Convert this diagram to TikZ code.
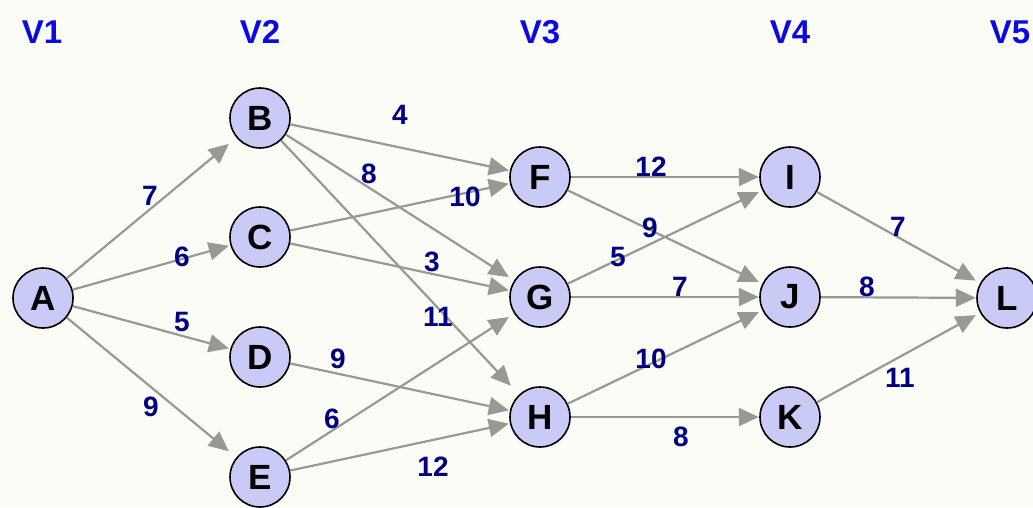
\documentclass[tikz,border=0pt]{standalone}
\usepackage{fontspec}
\setmainfont{Liberation Sans}
\usetikzlibrary{arrows.meta}
\definecolor{bgc}{RGB}{251,252,246}
\definecolor{lav}{RGB}{202,202,246}
\definecolor{edgec}{RGB}{152,153,148}
\definecolor{hdrc}{RGB}{10,10,228}
\definecolor{wc}{RGB}{0,0,128}
\tikzset{
  disk/.style={circle, draw=black, fill=lav, line width=1.6pt, minimum size=60pt, inner sep=0pt},
  box/.style={rectangle, minimum size=62pt, inner sep=0pt, font=\fontsize{35}{35}\selectfont\bfseries},
  hdr/.style={font=\fontsize{33}{33}\selectfont\bfseries, text=hdrc, inner sep=0pt},
  wlab/.style={font=\fontsize{28}{28}\selectfont\bfseries, text=wc, inner sep=0pt},
  edge/.style={draw=edgec, line width=2.2pt, -{Triangle[length=20pt,width=18pt]}, color=edgec}
}
\begin{document}
\begin{tikzpicture}[x=1pt,y=-1pt]
\fill[bgc] (0,0) rectangle (1033,507);
\useasboundingbox (0,0) rectangle (1033,507);
% headers
\node[hdr] (v1) at (42,32) {V1};
\node[hdr] (v2) at (260,32) {V2};
\node[hdr] (v3) at (540,32) {V3};
\node[hdr] (v4) at (790,32) {V4};
\node[hdr] (v5) at (1010,32) {V5};
% vertices
\foreach \n/\x/\y in {A/43/298, B/260/118, C/260/237, D/260/357, E/260/477,
  F/540/177, G/540/297, H/540/417, I/790/177, J/790/297, K/790/417, L/1007/298}{
  \node[disk] (d\n) at (\x,\y) {};
  \node[box] (\n) at (\x,\y) {\n};
}
% edges
\foreach \s/\t in {A/B, A/C, A/D, A/E, B/F, B/G, B/H, C/F, C/G, D/H, E/G, E/H,
  F/I, F/J, G/I, G/J, H/J, H/K, I/L, J/L, K/L}{
  \draw[edge] (d\s) -- (\t);
}
% weights
\node[wlab] (wAB) at (150,196) {7};
\node[wlab] (wAC) at (182,257) {6};
\node[wlab] (wAD) at (182,322) {5};
\node[wlab] (wAE) at (151,407) {9};
\node[wlab] (wBF) at (400,115) {4};
\node[wlab] (wBG) at (369,174) {8};
\node[wlab] (wBH) at (438,317) {11};
\node[wlab] (wCF) at (465,197) {10};
\node[wlab] (wCG) at (432,262) {3};
\node[wlab] (wDH) at (338,359) {9};
\node[wlab] (wEG) at (332,419) {6};
\node[wlab] (wEH) at (433,467) {12};
\node[wlab] (wFI) at (651,167) {12};
\node[wlab] (wFJ) at (650,228) {9};
\node[wlab] (wGI) at (618,257) {5};
\node[wlab] (wGJ) at (680,287) {7};
\node[wlab] (wHJ) at (651,359) {10};
\node[wlab] (wHK) at (681,437) {8};
\node[wlab] (wIL) at (898,227) {7};
\node[wlab] (wJL) at (867,287) {8};
\node[wlab] (wKL) at (900,378) {11};
\end{tikzpicture}
\end{document}
